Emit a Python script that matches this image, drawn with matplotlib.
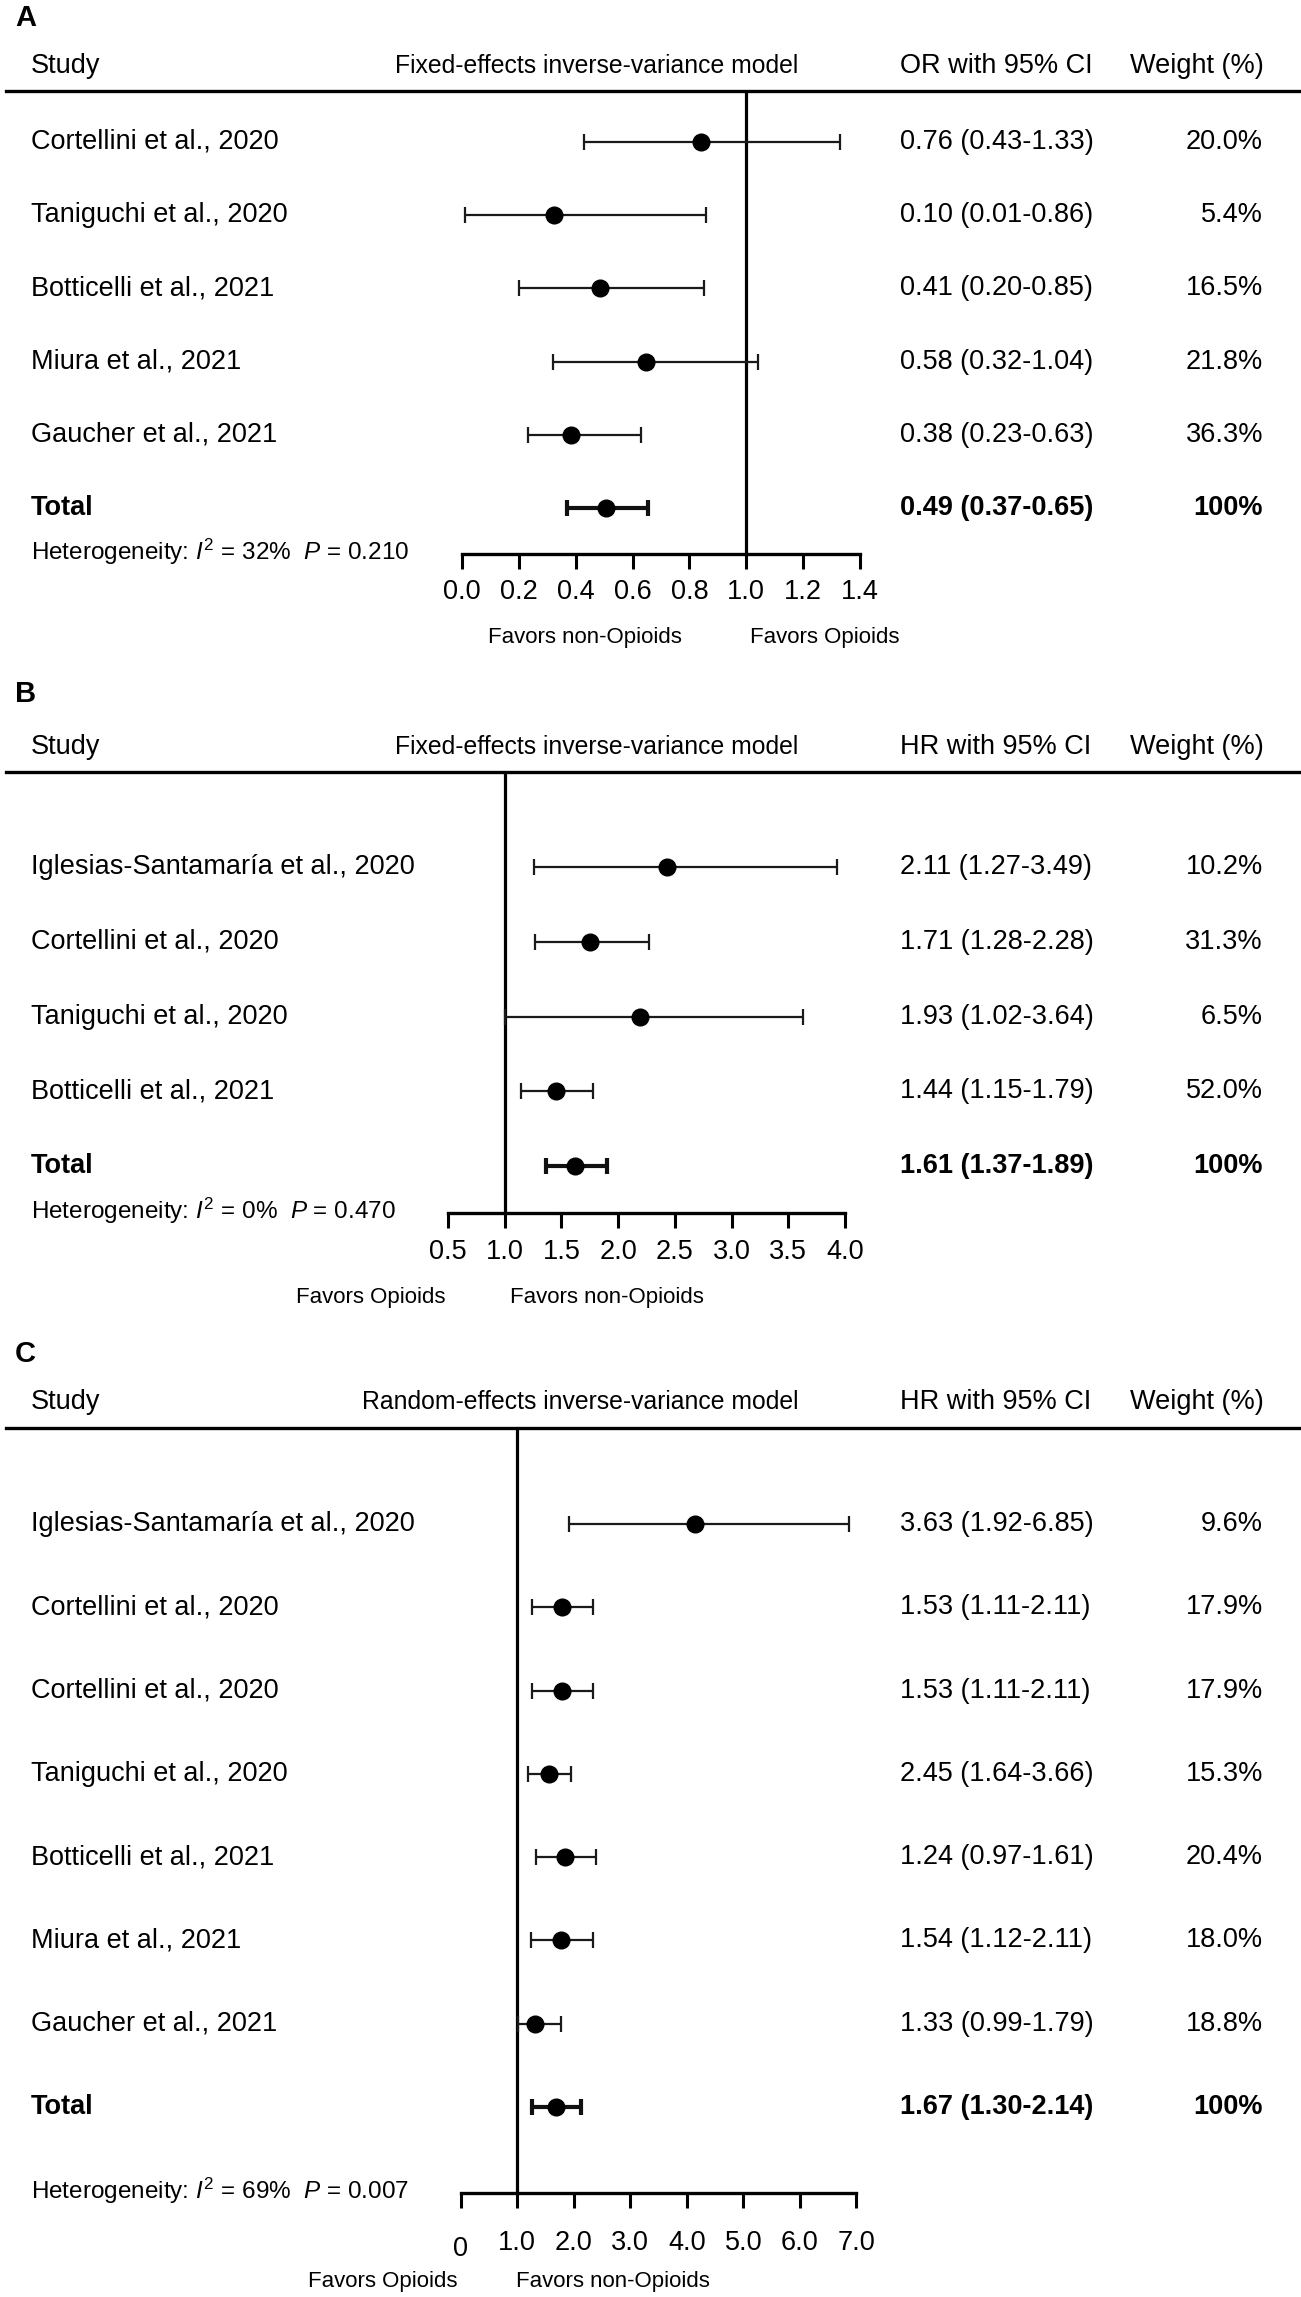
import matplotlib
matplotlib.use('Agg')
import matplotlib.pyplot as plt
from matplotlib.lines import Line2D
from matplotlib.transforms import blended_transform_factory, ScaledTranslation

plt.rcParams['font.family'] = ['Liberation Sans', 'DejaVu Sans']
plt.rcParams['mathtext.fontset'] = 'custom'
plt.rcParams['mathtext.rm'] = 'Liberation Sans'
plt.rcParams['mathtext.it'] = 'Liberation Sans:italic'
plt.rcParams['mathtext.bf'] = 'Liberation Sans:bold'

# ---------------- data ----------------
a_studies = ["Cortellini et al., 2020", "Taniguchi et al., 2020", "Botticelli et al., 2021",
             "Miura et al., 2021", "Gaucher et al., 2021"]
a_est = [0.84, 0.325, 0.487, 0.648, 0.382]
a_lo = [0.43, 0.012, 0.20, 0.321, 0.232]
a_hi = [1.33, 0.859, 0.851, 1.04, 0.63]
a_total = [0.506, 0.37, 0.654]
a_ci_text = ["0.76 (0.43-1.33)", "0.10 (0.01-0.86)", "0.41 (0.20-0.85)", "0.58 (0.32-1.04)", "0.38 (0.23-0.63)"]
a_weights = ["20.0%", "5.4%", "16.5%", "21.8%", "36.3%"]
a_total_text = ["0.49 (0.37-0.65)", "100%"]
a_het = ["32%", "0.210"]
a_ticks = [0.0, 0.2, 0.4, 0.6, 0.8, 1.0, 1.2, 1.4]
a_ticklabels = ["0.0", "0.2", "0.4", "0.6", "0.8", "1.0", "1.2", "1.4"]

b_studies = ["Iglesias-Santamaría et al., 2020", "Cortellini et al., 2020", "Taniguchi et al., 2020",
             "Botticelli et al., 2021"]
b_est = [2.43, 1.75, 2.19, 1.45]
b_lo = [1.26, 1.27, 1.0, 1.14]
b_hi = [3.93, 2.27, 3.63, 1.78]
b_total = [1.62, 1.36, 1.90]
b_ci_text = ["2.11 (1.27-3.49)", "1.71 (1.28-2.28)", "1.93 (1.02-3.64)", "1.44 (1.15-1.79)"]
b_weights = ["10.2%", "31.3%", "6.5%", "52.0%"]
b_total_text = ["1.61 (1.37-1.89)", "100%"]
b_het = ["0%", "0.470"]
b_ticks = [0.5, 1.0, 1.5, 2.0, 2.5, 3.0, 3.5, 4.0]
b_ticklabels = ["0.5", "1.0", "1.5", "2.0", "2.5", "3.0", "3.5", "4.0"]

c_studies = ["Iglesias-Santamaría et al., 2020", "Cortellini et al., 2020", "Cortellini et al., 2020",
             "Taniguchi et al., 2020", "Botticelli et al., 2021", "Miura et al., 2021", "Gaucher et al., 2021"]
c_est = [4.14, 1.79, 1.79, 1.57, 1.85, 1.77, 1.31]
c_lo = [1.92, 1.27, 1.27, 1.20, 1.34, 1.25, 1.01]
c_hi = [6.87, 2.35, 2.35, 1.95, 2.40, 2.34, 1.77]
c_total = [1.69, 1.27, 2.13]
c_ci_text = ["3.63 (1.92-6.85)", "1.53 (1.11-2.11)", "1.53 (1.11-2.11)", "2.45 (1.64-3.66)",
             "1.24 (0.97-1.61)", "1.54 (1.12-2.11)", "1.33 (0.99-1.79)"]
c_weights = ["9.6%", "17.9%", "17.9%", "15.3%", "20.4%", "18.0%", "18.8%"]
c_total_text = ["1.67 (1.30-2.14)", "100%"]
c_het = ["69%", "0.007"]
c_ticks = [0, 1, 2, 3, 4, 5, 6, 7]
c_ticklabels = ["0", "1.0", "2.0", "3.0", "4.0", "5.0", "6.0", "7.0"]

# ---------------- layout (pixels) ----------------
W, H = 1301, 2297
FS = 19.5
FS_HEAD = 17.8
FS_SMALL = 16.0
fig = plt.figure(figsize=(W / 100, H / 100), dpi=100)


def fx(x):
    return x / W


def fy(y):
    return 1 - y / H


panels = [
    dict(letter="A", model="Fixed-effects inverse-variance model", ci_head="OR with 95% CI",
         studies=a_studies, est=a_est, lo=a_lo, hi=a_hi, total=a_total, ci=a_ci_text, w=a_weights,
         tot_txt=a_total_text, het=a_het, ticks=a_ticks, tl=a_ticklabels,
         xlim=(0.0, 1.4), xpix=(462, 860), pad=7, drop_first=False,
         letter_y=18, head_y=66, line_y=91, row0=142, row_dy=73.2, axis_y=554, fav_y=637,
         fav=[("Favors non-Opioids", 488), ("Favors Opioids", 750)]),
    dict(letter="B", model="Fixed-effects inverse-variance model", ci_head="HR with 95% CI",
         studies=b_studies, est=b_est, lo=b_lo, hi=b_hi, total=b_total, ci=b_ci_text, w=b_weights,
         tot_txt=b_total_text, het=b_het, ticks=b_ticks, tl=b_ticklabels,
         xlim=(0.5, 4.0), xpix=(448, 845), pad=8, drop_first=False,
         letter_y=694, head_y=747, line_y=772, row0=867, row_dy=74.75, axis_y=1213, fav_y=1297,
         fav=[("Favors Opioids", 296), ("Favors non-Opioids", 510)]),
    dict(letter="C", model="Random-effects inverse-variance model", ci_head="HR with 95% CI",
         studies=c_studies, est=c_est, lo=c_lo, hi=c_hi, total=c_total, ci=c_ci_text, w=c_weights,
         tot_txt=c_total_text, het=c_het, ticks=c_ticks, tl=c_ticklabels,
         xlim=(0.0, 7.0), xpix=(460.6, 856.4), pad=16, drop_first=True,
         letter_y=1354, head_y=1402, line_y=1428, row0=1524, row_dy=83.3, axis_y=2193, fav_y=2282,
         fav=[("Favors Opioids", 308), ("Favors non-Opioids", 516)]),
]

for p in panels:
    x0, x1 = p["xpix"]
    ax = fig.add_axes([fx(x0), fy(p["axis_y"]), (x1 - x0) / W, (p["axis_y"] - p["line_y"]) / H])
    ax.set_xlim(*p["xlim"])
    ytop = (p["line_y"] - p["row0"]) / p["row_dy"]
    ybot = (p["axis_y"] - p["row0"]) / p["row_dy"]
    ax.set_ylim(ybot, ytop)
    for s in ("left", "top", "right"):
        ax.spines[s].set_visible(False)
    ax.spines["bottom"].set_linewidth(2.4)
    ax.set_yticks([])
    ax.set_xticks(p["ticks"])
    ax.set_xticklabels(p["tl"], fontsize=FS)
    ax.tick_params(axis="x", direction="out", length=11, width=2.2, pad=p["pad"])
    ax.patch.set_alpha(0)
    if p["drop_first"]:
        lab = ax.get_xticklabels()[0]
        lab.set_transform(lab.get_transform() + ScaledTranslation(0, -4 / 72, fig.dpi_scale_trans))

    ax.axvline(1.0, color="black", lw=2.3, zorder=1)

    n = len(p["studies"])
    rows = list(range(n))
    est, lo, hi = p["est"], p["lo"], p["hi"]
    ax.errorbar(est, rows, xerr=[[e - l for e, l in zip(est, lo)], [h - e for e, h in zip(est, hi)]],
                fmt="o", ms=12, mfc="black", mec="black", ecolor="#1a1a1a",
                elinewidth=1.6, capsize=5.8, capthick=1.6, clip_on=False, zorder=3)
    te, tlo, thi = p["total"]
    ax.errorbar([te], [n], xerr=[[te - tlo], [thi - te]], fmt="o", ms=12, mfc="black", mec="black",
                ecolor="#111111", elinewidth=3.0, capsize=5.8, capthick=3.0, clip_on=False, zorder=3)

    tr = blended_transform_factory(fig.transFigure, ax.transData)
    for i, (name, ci, w) in enumerate(zip(p["studies"], p["ci"], p["w"])):
        ax.text(fx(31), i, name, transform=tr, ha="left", va="center", fontsize=FS)
        ax.text(fx(900), i, ci, transform=tr, ha="left", va="center", fontsize=FS)
        ax.text(fx(1263), i, w, transform=tr, ha="right", va="center", fontsize=FS)
    ax.text(fx(31), n, "Total", transform=tr, ha="left", va="center", fontsize=FS, fontweight="bold")
    ax.text(fx(900), n, p["tot_txt"][0], transform=tr, ha="left", va="center", fontsize=FS, fontweight="bold")
    ax.text(fx(1263), n, p["tot_txt"][1], transform=tr, ha="right", va="center", fontsize=FS, fontweight="bold")

    # headers
    fig.text(fx(15), fy(p["letter_y"]), p["letter"], ha="left", va="center", fontsize=21, fontweight="bold")
    fig.text(fx(31), fy(p["head_y"]), "Study", ha="left", va="center", fontsize=FS)
    fig.text(fx(798), fy(p["head_y"]), p["model"], ha="right", va="center", fontsize=FS_HEAD)
    fig.text(fx(900), fy(p["head_y"]), p["ci_head"], ha="left", va="center", fontsize=FS)
    fig.text(fx(1130), fy(p["head_y"]), "Weight (%)", ha="left", va="center", fontsize=FS)
    fig.add_artist(Line2D([fx(6), 1.0], [fy(p["line_y"]), fy(p["line_y"])], color="black", lw=2.4))

    # heterogeneity
    i2, pv = p["het"]
    fig.text(fx(31), fy(p["axis_y"] - 2),
             r"Heterogeneity: $I^2$ = " + i2 + r"  $P$ = " + pv,
             ha="left", va="center", fontsize=17.5)

    # favors labels
    for txt, xl in p["fav"]:
        fig.text(fx(xl), fy(p["fav_y"]), txt, ha="left", va="center", fontsize=FS_SMALL)

fig.savefig("out.png", dpi=100, facecolor="white")
